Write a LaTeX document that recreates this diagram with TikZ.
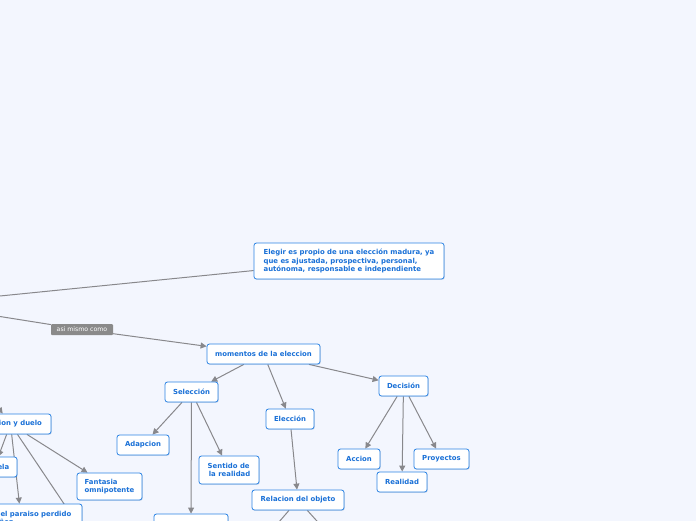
\documentclass[tikz,border=0pt]{standalone}
\usepackage{fontspec}
\setsansfont{DejaVu Sans}
\usetikzlibrary{arrows.meta,backgrounds,shadows}
\definecolor{bgc}{RGB}{243,246,254}
\definecolor{txtblue}{RGB}{25,112,215}
\definecolor{brdblue}{RGB}{45,132,228}
\definecolor{lnk}{RGB}{136,136,140}
\definecolor{lblgray}{RGB}{138,138,138}
\tikzset{
  box/.style={draw=brdblue, fill=white, line width=0.8pt, rounded corners=2.5pt,
    text=txtblue, font=\sffamily\bfseries\fontsize{6.9}{8.5}\selectfont,
    inner sep=0pt, align=left,
    drop shadow={shadow xshift=0.7pt, shadow yshift=-0.7pt, opacity=0.25, fill=brdblue!60!black}},
  lbl/.style={fill=lblgray, rounded corners=1pt, text=white,
    font=\sffamily\fontsize{6.2}{7}\selectfont, inner sep=0pt},
  conn/.style={draw=lnk, line width=1pt},
  arr/.style={conn, -{Triangle[length=6pt,width=6pt]}}
}
\begin{document}
\begin{tikzpicture}[x=1pt,y=-1pt]
\useasboundingbox (0,0) rectangle (696,520);
% nodes
\node[box, minimum width=190pt, minimum height=36pt] (elegir) at (349,261)
  {Elegir es propio de una elección madura, ya\\que es ajustada, prospectiva, personal,\\autónoma, responsable e independiente};
\node[lbl, minimum width=62pt, minimum height=11pt] (asi) at (82,329.5) {asi mismo como};
\node[box, minimum width=113pt, minimum height=20pt] (mom) at (263.5,354) {momentos de la eleccion};
\node[box, minimum width=53pt, minimum height=20pt] (sel) at (191.5,392) {Selección};
\node[box, minimum width=49pt, minimum height=20pt] (dec) at (403.5,386) {Decisión};
\node[box, minimum width=48pt, minimum height=20pt] (elc) at (290,419) {Elección};
\node[box, minimum width=52pt, minimum height=20pt] (adap) at (143,445) {Adapcion};
\node[box, minimum width=60pt, minimum height=28pt] (sent) at (229,470) {Sentido de\\\,la realidad};
\node[box, minimum width=74pt, minimum height=26pt] (selbot) at (191,527) {};
\node[box, minimum width=92pt, minimum height=20pt] (rel) at (298,500) {Relacion del objeto};
\node[box, minimum width=42pt, minimum height=20pt] (acc) at (359,459) {Accion};
\node[box, minimum width=50pt, minimum height=20pt] (real) at (402,482) {Realidad};
\node[box, minimum width=55pt, minimum height=20pt] (proy) at (441.5,459) {Proyectos};
\node[box, minimum width=81pt, minimum height=20pt] (duelo) at (10.5,424) {Eleccion y duelo};
\node[box, minimum width=45pt, minimum height=20pt] (ela) at (-5.5,467) {Escuela};
\node[box, minimum width=122pt, minimum height=28pt] (paraiso) at (21,518) {Duelo del paraiso perdido\\de la niñez};
\node[box, minimum width=65pt, minimum height=27pt] (fant) at (109.5,486.5) {Fantasia\\omnipotente};
% free ends
\coordinate (srcA) at (-60,302);
\coordinate (srcB) at (-60,307);
\coordinate (srcC) at (-30,370);
\coordinate (belowD) at (95,550);
\coordinate (relL) at (272,530);
\coordinate (relR) at (325,530);
% connectors
\begin{pgfonlayer}{background}
\fill[bgc] (-100,-100) rectangle (800,620);
\draw[conn] (srcA) -- (elegir);
\draw[conn] (srcB) -- (asi);
\draw[arr] (asi) -- (mom);
\draw[arr] (mom) -- (sel);
\draw[arr] (mom) -- (elc);
\draw[arr] (mom) -- (dec);
\draw[arr] (sel) -- (adap);
\draw[arr] (sel) -- (sent);
\draw[arr] (sel) -- (selbot);
\draw[arr] (elc) -- (rel);
\draw[conn] (rel) -- (relL);
\draw[conn] (rel) -- (relR);
\draw[arr] (dec) -- (acc);
\draw[arr] (dec) -- (real);
\draw[arr] (dec) -- (proy);
\draw[arr] (srcC) -- (duelo);
\draw[arr] (duelo) -- (ela);
\draw[arr] (duelo) -- (paraiso);
\draw[conn] (duelo) -- (belowD);
\draw[arr] (duelo) -- (fant);
\end{pgfonlayer}
\end{tikzpicture}
\end{document}
